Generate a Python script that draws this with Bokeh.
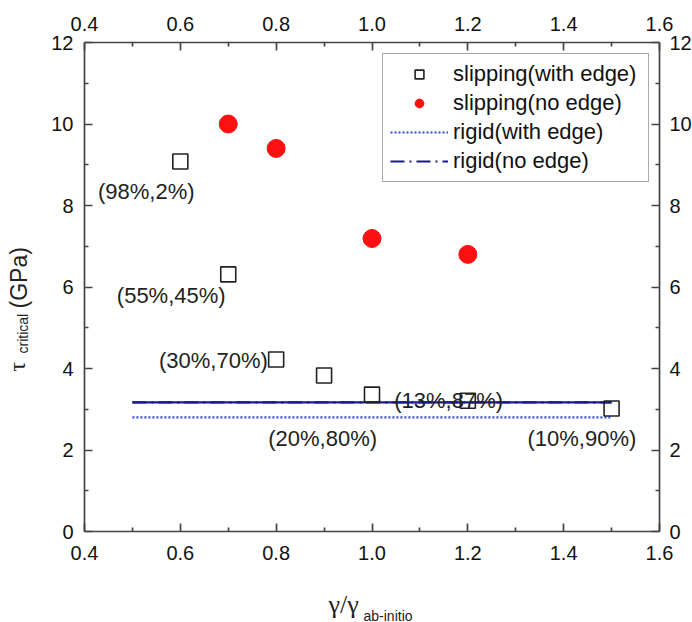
import math
from bokeh.plotting import figure
from bokeh.models import (LinearAxis, FixedTicker, PrintfTickFormatter, Range1d,
                          Legend, LegendItem, Label, ColumnDataSource)
from bokeh.embed import file_html
from bokeh.resources import INLINE

# ---- data ----
sq_x = [0.6, 0.7, 0.8, 0.9, 1.0, 1.2, 1.5]
sq_y = [9.08, 6.31, 4.22, 3.83, 3.36, 3.21, 3.02]
ci_x = [0.7, 0.8, 1.0, 1.2]
ci_y = [10.0, 9.4, 7.19, 6.8]
rigid_x = [0.5, 1.5]
rigid_edge_y = [2.8, 2.8]
rigid_noedge_y = [3.17, 3.17]
ann_text = ["(98%,2%)", "(55%,45%)", "(30%,70%)", "(13%,87%)", "(20%,80%)", "(10%,90%)"]
ann_x = [0.529, 0.581, 0.669, 1.16, 0.897, 1.438]
ann_y = [8.34, 5.79, 4.2, 3.21, 2.28, 2.28]
x_ticks = [0.4, 0.6, 0.8, 1.0, 1.2, 1.4, 1.6]
x_minor = [0.5, 0.7, 0.9, 1.1, 1.3, 1.5]
y_ticks = [0, 2, 4, 6, 8, 10, 12]
y_minor = [1, 3, 5, 7, 9, 11]
x_lim = (0.4, 1.6)
y_lim = (0, 12)

FONT = "Liberation Sans"
GREEK = "Liberation Serif"
INK = "#222222"
W, H = 692, 622
# plot box in page pixels
BOX_L, BOX_R, BOX_T, BOX_B = 84, 659, 42, 531

xs = (x_lim[1] - x_lim[0]) / (BOX_R - BOX_L)
ys = (y_lim[1] - y_lim[0]) / (BOX_B - BOX_T)
x_range = Range1d(x_lim[0] - BOX_L * xs, x_lim[1] + (W - BOX_R) * xs)
y_range = Range1d(y_lim[0] - (H - BOX_B) * ys, y_lim[1] + BOX_T * ys)

p = figure(width=W, height=H, output_backend="svg", toolbar_location=None,
           x_range=x_range, y_range=y_range, min_border=0,
           x_axis_location=None, y_axis_location=None)
p.xgrid.visible = False
p.ygrid.visible = False
p.outline_line_color = None
p.background_fill_color = "white"
p.border_fill_color = "white"

def make_axis(ticks, minor, fmt, standoff, bounds, fixed):
    ax = LinearAxis(fixed_location=fixed, bounds=bounds)
    ax.ticker = FixedTicker(ticks=ticks, minor_ticks=minor)
    ax.formatter = PrintfTickFormatter(format=fmt)
    ax.major_tick_in = 8
    ax.major_tick_out = 0
    ax.minor_tick_in = 4
    ax.minor_tick_out = 0
    for attr in ["axis_line", "major_tick_line", "minor_tick_line"]:
        setattr(ax, attr + "_color", "#444444")
        setattr(ax, attr + "_width", 1.7)
    ax.major_label_text_font = FONT
    ax.major_label_text_font_size = "20px"
    ax.major_label_text_color = "#111111"
    ax.major_label_standoff = standoff
    return ax

p.add_layout(make_axis(x_ticks, x_minor, "%.1f", 14, x_lim, y_lim[0]), "below")
p.add_layout(make_axis(x_ticks, x_minor, "%.1f", 12, x_lim, y_lim[1]), "above")
p.add_layout(make_axis(y_ticks, y_minor, "%d", 11, y_lim, x_lim[0]), "left")
p.add_layout(make_axis(y_ticks, y_minor, "%d", 10, y_lim, x_lim[1]), "right")

def screen_label(text, px, py, font, size, angle=0.0):
    # px, py: page pixels from top-left; Label screen units run from bottom-left
    return Label(x=px, y=H - py, x_units="screen", y_units="screen", text=text,
                 text_font=font, text_font_size=size, text_color=INK, angle=angle,
                 text_align="left", text_baseline="alphabetic")

# axis titles with subscripts
p.add_layout(screen_label("γ/γ", 328, 604, GREEK, "26px"))
p.add_layout(screen_label("ab-initio", 363, 615, FONT, "14px"))
p.add_layout(screen_label("τ", 16, 371, GREEK, "24px", math.pi / 2))
p.add_layout(screen_label("critical", 22, 353, FONT, "14px", math.pi / 2))
p.add_layout(screen_label("(GPa)", 18, 308, FONT, "23px", math.pi / 2))

src_sq = ColumnDataSource(dict(x=sq_x, y=sq_y))
src_ci = ColumnDataSource(dict(x=ci_x, y=ci_y))
src_re = ColumnDataSource(dict(x=rigid_x, y=rigid_edge_y))
src_rn = ColumnDataSource(dict(x=rigid_x, y=rigid_noedge_y))

r_dot = p.line("x", "y", source=src_re, line_color="#3344ff", line_width=2.2, line_dash="2 2")
p.line("x", "y", source=src_rn, line_color="#1a1a8c", line_width=2.2)
r_dd = p.line("x", "y", source=src_rn, line_color="#1a1a8c", line_width=2.2, line_dash="14 5 2 5")
r_sq = p.scatter("x", "y", source=src_sq, marker="square", size=15, fill_color=None,
                 line_color=INK, line_width=1.6)
r_ci = p.scatter("x", "y", source=src_ci, marker="circle", size=18, fill_color="#ff1010",
                 line_color="#ff1010")

for t, x, y in zip(ann_text, ann_x, ann_y):
    p.add_layout(Label(x=x, y=y, text=t, text_font=FONT, text_font_size="22px",
                       text_color=INK, text_align="center", text_baseline="middle"))

legend = Legend(items=[
    LegendItem(label="slipping(with edge)", renderers=[r_sq]),
    LegendItem(label="slipping(no edge)", renderers=[r_ci]),
    LegendItem(label="rigid(with edge)", renderers=[r_dot]),
    LegendItem(label="rigid(no edge)", renderers=[r_dd]),
], location=(382, H - 182))
legend.label_text_font = FONT
legend.label_text_font_size = "22px"
legend.label_text_color = "#111111"
legend.glyph_width = 58
legend.glyph_height = 22
legend.label_height = 22
legend.label_width = 188
legend.spacing = 3
legend.label_standoff = 5
legend.padding = 7
legend.margin = 0
legend.border_line_color = "#555555"
legend.border_line_width = 1.5
legend.background_fill_alpha = 1
p.add_layout(legend, "center")

open("out.html", "w").write(file_html(p, INLINE))
